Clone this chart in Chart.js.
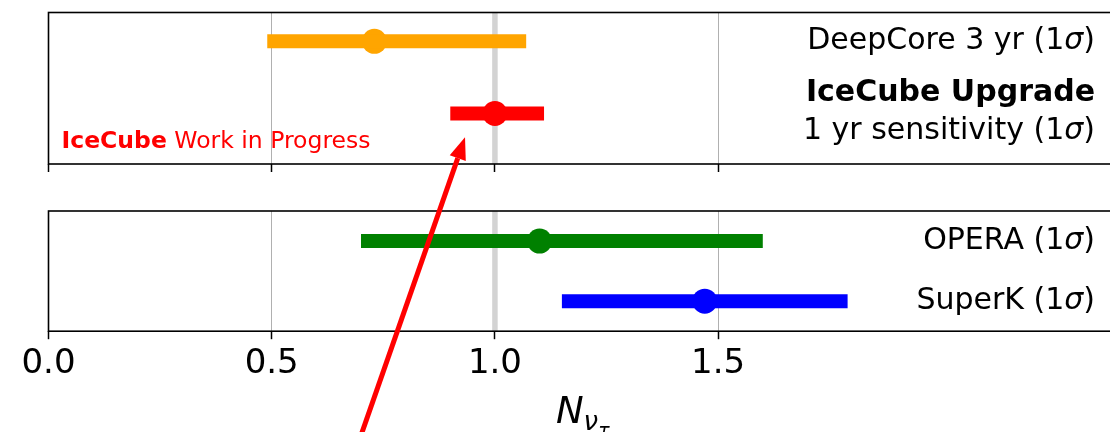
<!DOCTYPE html>
<html>
<head>
<meta charset="utf-8">
<script src="https://cdn.jsdelivr.net/npm/chart.js@4.4.1/dist/chart.umd.min.js"></script>
<style>
  html, body { margin: 0; padding: 0; background: #fff; overflow: hidden; }
  #wrap { position: relative; width: 1110px; height: 432px; overflow: hidden; }
  canvas { position: absolute; left: 0; top: 0; }
</style>
</head>
<body>
<div id="wrap">
  <canvas id="topChart" width="1130" height="180"></canvas>
  <canvas id="bottomChart" width="1130" height="432"></canvas>
</div>
<script>
// =========================
// DATA
// =========================

var xTicks = [0, 0.5, 1.0, 1.5];
var refValue = 1.0;

var topLabels = ["DeepCore 3 yr (1σ)", "IceCube Upgrade"];
var topSubLabels = ["", "1 yr sensitivity (1σ)"];
var topCentral = [0.73, 1.0];
var topLow = [0.49, 0.90];
var topHigh = [1.07, 1.11];
var topColors = ["#ffa500", "#ff0000"];

var bottomLabels = ["OPERA (1σ)", "SuperK (1σ)"];
var bottomCentral = [1.10, 1.47];
var bottomLow = [0.70, 1.15];
var bottomHigh = [1.60, 1.79];
var bottomColors = ["#008000", "#0000ff"];

var rowY = [1, 0];

var FONT = "'DejaVu Sans', 'Liberation Sans', sans-serif";
var LABEL_SIZE = 30;

// =========================
// HELPERS
// =========================

function buildDatasets(central, low, high, colors) {
  var sets = [];
  for (var i = 0; i < central.length; i++) {
    sets.push({
      type: "line",
      data: [{ x: low[i], y: rowY[i] }, { x: high[i], y: rowY[i] }],
      borderColor: colors[i],
      borderWidth: 14,
      borderCapStyle: "butt",
      pointRadius: 0,
      fill: false,
      showLine: true,
    });
  }
  for (var j = 0; j < central.length; j++) {
    sets.push({
      type: "scatter",
      data: [{ x: central[j], y: rowY[j] }],
      backgroundColor: colors[j],
      borderWidth: 0,
      pointRadius: 12.5,
    });
  }
  return sets;
}

function xScale(showLabels) {
  return {
    type: "linear",
    min: 0,
    max: 2.38,
    afterBuildTicks: function (axis) {
      axis.ticks = xTicks.map(function (v) { return { value: v }; });
    },
    grid: {
      color: "#b0b0b0",
      lineWidth: 1,
      drawTicks: true,
      tickLength: 8,
      tickColor: "#000",
      tickWidth: 1.5,
    },
    border: { display: false },
    ticks: {
      display: showLabels,
      color: "#000",
      padding: 5,
      font: { family: FONT, size: 34 },
      maxRotation: 0,
      callback: function (v) { return Number(v).toFixed(1); },
    },
  };
}

// right-aligned text with an italic sigma, like mathtext
function drawLabel(ctx, text, right, y, bold) {
  var parts = text.split("σ");
  var upright = (bold ? "bold " : "") + LABEL_SIZE + "px " + FONT;
  var italic = "italic " + LABEL_SIZE + "px " + FONT;
  var pieces = [];
  for (var i = 0; i < parts.length; i++) {
    if (parts[i]) pieces.push({ t: parts[i], f: upright });
    if (i < parts.length - 1) pieces.push({ t: "σ", f: italic });
  }
  var total = 0;
  pieces.forEach(function (p) { ctx.font = p.f; p.w = ctx.measureText(p.t).width; total += p.w; });
  var x = right - total;
  ctx.textAlign = "left";
  pieces.forEach(function (p) { ctx.font = p.f; ctx.fillText(p.t, x, y); x += p.w; });
}

// band at N = 1, frame and right-hand labels
var panelDecor = {
  id: "panelDecor",
  beforeDatasetsDraw: function (chart) {
    var ctx = chart.ctx;
    var area = chart.chartArea;
    var x = chart.scales.x.getPixelForValue(refValue);
    ctx.save();
    ctx.strokeStyle = "#d3d3d3";
    ctx.lineWidth = 5.5;
    ctx.beginPath();
    ctx.moveTo(x, area.top);
    ctx.lineTo(x, area.bottom);
    ctx.stroke();
    ctx.restore();
  },
  afterDraw: function (chart, args, opts) {
    var ctx = chart.ctx;
    var area = chart.chartArea;
    var ys = chart.scales.y;
    ctx.save();
    ctx.strokeStyle = "#000";
    ctx.lineWidth = 1.6;
    ctx.strokeRect(area.left, area.top, area.right - area.left, area.bottom - area.top);

    ctx.fillStyle = "#000";
    ctx.textBaseline = "middle";
    var tx = area.right - 16;
    for (var i = 0; i < opts.labels.length; i++) {
      var y = ys.getPixelForValue(rowY[i]);
      var sub = opts.subLabels ? opts.subLabels[i] : "";
      if (sub) {
        drawLabel(ctx, opts.labels[i], tx, y - 20, true);
        drawLabel(ctx, sub, tx, y + 18, false);
      } else {
        drawLabel(ctx, opts.labels[i], tx, y, false);
      }
    }

    if (opts.watermark) {
      ctx.fillStyle = "#ff0000";
      ctx.textAlign = "left";
      ctx.textBaseline = "alphabetic";
      ctx.font = "bold 23.5px " + FONT;
      var wx = area.left + 13;
      var wy = area.bottom - 16;
      ctx.fillText("IceCube", wx, wy);
      var w = ctx.measureText("IceCube").width;
      ctx.font = "23.5px " + FONT;
      ctx.fillText(" Work in Progress", wx + w, wy);
    }
    ctx.restore();
  },
};

// =========================
// TOP PANEL
// =========================

var topCanvas = document.getElementById("topChart");

var topChart = new Chart(topCanvas, {
  type: "scatter",
  data: { datasets: buildDatasets(topCentral, topLow, topHigh, topColors) },
  options: {
    responsive: false,
    animation: false,
    devicePixelRatio: 1,
    layout: { padding: { left: 48.5, right: 19, top: 12, bottom: 8 } },
    plugins: {
      legend: { display: false },
      tooltip: { enabled: false },
      panelDecor: { labels: topLabels, subLabels: topSubLabels, watermark: true },
    },
    scales: {
      x: xScale(false),
      y: { type: "linear", min: -0.7, max: 1.4, display: false },
    },
  },
  plugins: [panelDecor],
});

// =========================
// BOTTOM PANEL + AXIS LABEL + ARROW
// =========================

var bottomExtras = {
  id: "bottomExtras",
  afterDraw: function (chart) {
    var ctx = chart.ctx;
    var area = chart.chartArea;
    ctx.save();

    // x-axis title N_{nu_tau}
    ctx.fillStyle = "#000";
    ctx.textBaseline = "alphabetic";
    ctx.textAlign = "left";
    ctx.font = "italic 37px " + FONT;
    var wN = ctx.measureText("N").width;
    ctx.font = "italic 26px " + FONT;
    var wNu = ctx.measureText("ν").width;
    ctx.font = "italic 19px " + FONT;
    var wTau = ctx.measureText("τ").width;
    var cx = (area.left + area.right) / 2;
    var x0 = cx - (wN + wNu + wTau) / 2 + 3;
    ctx.font = "italic 37px " + FONT;
    ctx.fillText("N", x0, 423);
    ctx.font = "italic 26px " + FONT;
    ctx.fillText("ν", x0 + wN, 430);
    ctx.font = "italic 19px " + FONT;
    ctx.fillText("τ", x0 + wN + wNu, 437);

    // red arrow pointing at the Upgrade sensitivity
    var tipX = chart.scales.x.getPixelForValue(0.933);
    var tipY = topChart.scales.y.getPixelForValue(-0.33);
    var dx = -0.349, dy = 1;
    var len = Math.sqrt(dx * dx + dy * dy);
    dx /= len; dy /= len;
    var headLen = 22, headHalf = 8.5;
    var baseX = tipX + dx * headLen, baseY = tipY + dy * headLen;
    var tailX = tipX + dx * 400, tailY = tipY + dy * 400;
    ctx.strokeStyle = "#ff0000";
    ctx.fillStyle = "#ff0000";
    ctx.lineWidth = 5;
    ctx.beginPath();
    ctx.moveTo(tailX, tailY);
    ctx.lineTo(baseX, baseY);
    ctx.stroke();
    ctx.beginPath();
    ctx.moveTo(tipX, tipY);
    ctx.lineTo(baseX - dy * headHalf, baseY + dx * headHalf);
    ctx.lineTo(baseX + dy * headHalf, baseY - dx * headHalf);
    ctx.closePath();
    ctx.fill();

    ctx.restore();
  },
};

var bottomCanvas = document.getElementById("bottomChart");

new Chart(bottomCanvas, {
  type: "scatter",
  data: { datasets: buildDatasets(bottomCentral, bottomLow, bottomHigh, bottomColors) },
  options: {
    responsive: false,
    animation: false,
    devicePixelRatio: 1,
    layout: { padding: { left: 48.5, right: 19, top: 211, bottom: 42 } },
    plugins: {
      legend: { display: false },
      tooltip: { enabled: false },
      panelDecor: { labels: bottomLabels, watermark: false },
    },
    scales: {
      x: xScale(true),
      y: { type: "linear", min: -0.5, max: 1.5, display: false },
    },
  },
  plugins: [panelDecor, bottomExtras],
});
</script>
</body>
</html>
